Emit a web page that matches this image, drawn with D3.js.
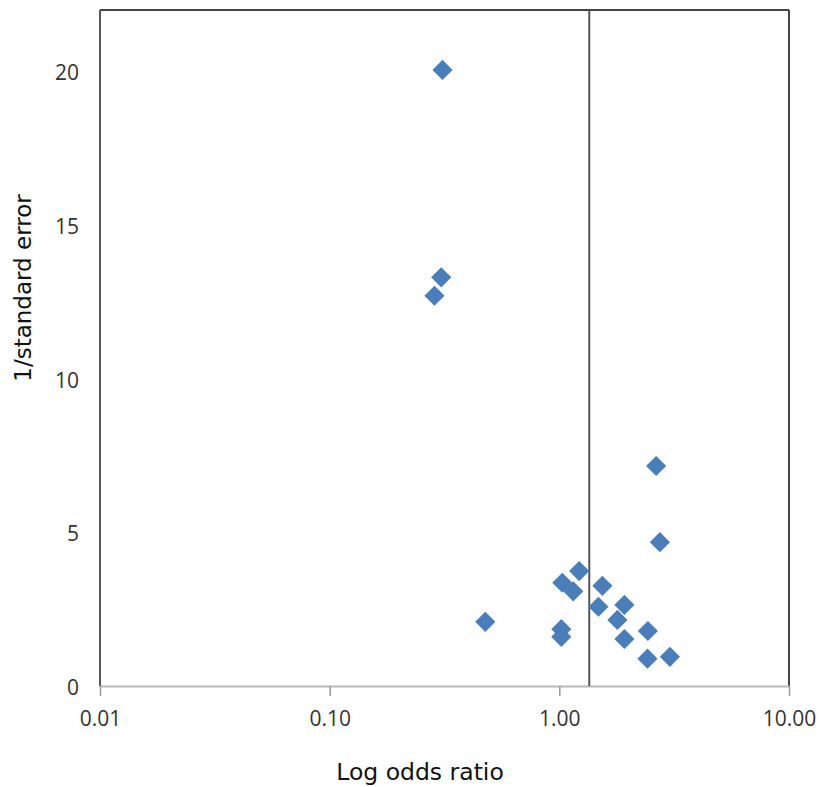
<!DOCTYPE html>
<html><head><meta charset="utf-8">
<script src="https://cdn.jsdelivr.net/npm/d3@7"></script>
<style>body{margin:0;background:#fff}</style>
</head><body><svg id="c" width="821" height="787"></svg>
<script>
const oddsRatio = [0.310, 0.306, 0.286, 2.64, 2.74, 1.22, 1.03, 1.15, 1.54, 1.48, 1.92, 1.79, 2.43, 1.02, 1.02, 1.92, 2.42, 3.03, 0.476];
const invSE     = [20.05, 13.30, 12.70, 7.16, 4.68, 3.74, 3.36, 3.08, 3.26, 2.58, 2.64, 2.15, 1.79, 1.85, 1.60, 1.53, 0.89, 0.95, 2.09];
const pooledOR = 1.35;
const xTicks = [0.01, 0.1, 1, 10];
const yTicks = [0, 5, 10, 15, 20];
const xTitle = "Log odds ratio";
const yTitle = "1/standard error";

const svg = d3.select("#c");
const L = 100, R = 789, T = 10, B = 686;
const x = d3.scaleLog().domain([0.01, 10]).range([L, R]);
const y = d3.scaleLinear().domain([0, 22]).range([B, T]);

// frame
svg.append("line").attr("x1", L).attr("x2", R).attr("y1", T).attr("y2", T).attr("stroke", "#444").attr("stroke-width", 2);
svg.append("line").attr("x1", R).attr("x2", R).attr("y1", T).attr("y2", B).attr("stroke", "#444").attr("stroke-width", 2);
svg.append("line").attr("x1", L).attr("x2", L).attr("y1", T).attr("y2", B).attr("stroke", "#555").attr("stroke-width", 2);

// x axis
const xa = svg.append("g").attr("transform", `translate(0,${B})`)
  .call(d3.axisBottom(x).tickValues(xTicks).tickFormat(d3.format(".2f")).tickSize(10).tickSizeOuter(0));
xa.select(".domain").attr("stroke", "#b8b8b8").attr("stroke-width", 2);
xa.selectAll(".tick line").attr("stroke", "#999").attr("stroke-width", 1.5);
xa.selectAll(".tick text").attr("font-family", "Open Sans").attr("font-size", 21).attr("fill", "#333").attr("y", 17).attr("dy", "1.1em");

// y axis labels
const ya = svg.append("g").attr("transform", `translate(${L},0)`)
  .call(d3.axisLeft(y).tickValues(yTicks).tickSize(0).tickPadding(21));
ya.select(".domain").remove();
ya.selectAll(".tick text").attr("font-family", "Open Sans").attr("font-size", 21).attr("fill", "#333").attr("dy", "0.4em");

// pooled line
svg.append("line").attr("x1", x(pooledOR)).attr("x2", x(pooledOR)).attr("y1", T).attr("y2", B)
  .attr("stroke", "#555").attr("stroke-width", 2);

// points
const sym = d3.symbol().type(d3.symbolDiamond2).size(260);
svg.append("g").selectAll("path").data(oddsRatio).join("path")
  .attr("d", sym)
  .attr("transform", (d, i) => `translate(${x(d)},${y(invSE[i])})`)
  .attr("fill", "#4a7ebb");

// titles
svg.append("text").attr("x", 420).attr("y", 780).attr("text-anchor", "middle")
  .attr("font-family", "DejaVu Sans").attr("font-size", 23.5).attr("fill", "#111").text(xTitle);
svg.append("text").attr("transform", "translate(31,288) rotate(-90)").attr("text-anchor", "middle")
  .attr("font-family", "DejaVu Sans").attr("font-size", 23).attr("fill", "#111").text(yTitle);
</script></body></html>
